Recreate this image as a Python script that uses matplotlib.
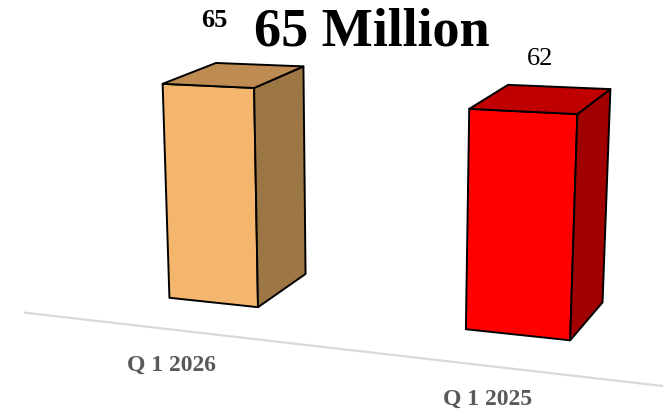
import numpy as np
import matplotlib
matplotlib.use('Agg')
import matplotlib.pyplot as plt
from matplotlib.patches import Polygon

categories = ['Q 1 2026', 'Q 1 2025']
values = [65, 62]
title = '65 Million'
front_colors = ['#F4B66D', '#FF0000']
side_colors = ['#9C7645', '#A00000']
top_colors = ['#BE8C52', '#C00000']

# camera / scene layout (world units), found by matching the reference perspective
yaw, pitch, roll = 0.50566, -0.27987, 0.046077
dist, focal = 19.55, 1821.8
cx, cy = 78.118, 288.11
bar_x = [1.5845, 4.7496]
bar_w, bar_d = 1.0, 1.3182
unit = 0.034727          # world height per value unit
floor_z, floor_x0, floor_x1 = -0.99061, -0.102, 6.2919

# pixel nudges for the labels (Excel puts them a bit off the bars)
value_off = [(-20, -54), (-1, -40)]
cat_off = [(-42, 63), (-30, 65)]


def rot(a, b, c):
    ry = np.array([[np.cos(a), 0, np.sin(a)], [0, 1, 0], [-np.sin(a), 0, np.cos(a)]])
    rx = np.array([[1, 0, 0], [0, np.cos(b), -np.sin(b)], [0, np.sin(b), np.cos(b)]])
    rz = np.array([[np.cos(c), -np.sin(c), 0], [np.sin(c), np.cos(c), 0], [0, 0, 1]])
    return rz @ rx @ ry


R = rot(yaw, pitch, roll)


def proj(pts):
    pts = np.atleast_2d(np.asarray(pts, dtype=float))
    pc = pts @ R.T + np.array([0, 0, dist])
    u = cx + focal * pc[:, 0] / pc[:, 2]
    v = cy - focal * pc[:, 1] / pc[:, 2]
    return np.column_stack([u, v])


fig = plt.figure(figsize=(6.66, 4.16), dpi=100)
ax = fig.add_axes([0, 0, 1, 1])
ax.set_xlim(0, 666)
ax.set_ylim(416, 0)
ax.axis('off')

# floor line
fl = proj([[floor_x0, 0, floor_z], [floor_x1, 0, floor_z]])
ax.plot(fl[:, 0], fl[:, 1], color='#D9D9D9', linewidth=1.6, solid_capstyle='butt')

for i, (cat, val) in enumerate(zip(categories, values)):
    x0, x1 = bar_x[i] - bar_w / 2, bar_x[i] + bar_w / 2
    h = val * unit
    FBL, FBR, FTR, FTL = [x0, 0, 0], [x1, 0, 0], [x1, h, 0], [x0, h, 0]
    BBR, BTR, BTL = [x1, 0, bar_d], [x1, h, bar_d], [x0, h, bar_d]
    faces = [([FBL, FBR, FTR, FTL], front_colors[i]),
             ([FBR, BBR, BTR, FTR], side_colors[i]),
             ([FTL, FTR, BTR, BTL], top_colors[i])]
    for corners, col in faces:
        ax.add_patch(Polygon(proj(corners), closed=True, facecolor=col,
                             edgecolor='black', linewidth=1.4, joinstyle='round'))

    top_c = proj([[bar_x[i], h, bar_d / 2]])[0]
    ax.text(top_c[0] + value_off[i][0], top_c[1] + value_off[i][1], str(val),
            ha='center', va='center', fontsize=19, family='Liberation Serif',
            fontweight='bold' if i == 0 else 'normal', color='black')

    base_c = proj([[bar_x[i], 0, 0]])[0]
    ax.text(base_c[0] + cat_off[i][0], base_c[1] + cat_off[i][1], cat,
            ha='center', va='center', fontsize=17, family='Liberation Serif',
            fontweight='bold', color='#595959')

ax.text(372, 45, title, ha='center', va='baseline', fontsize=39,
        family='Liberation Serif', fontweight='bold', color='black')

fig.savefig('out.png', dpi=100)
